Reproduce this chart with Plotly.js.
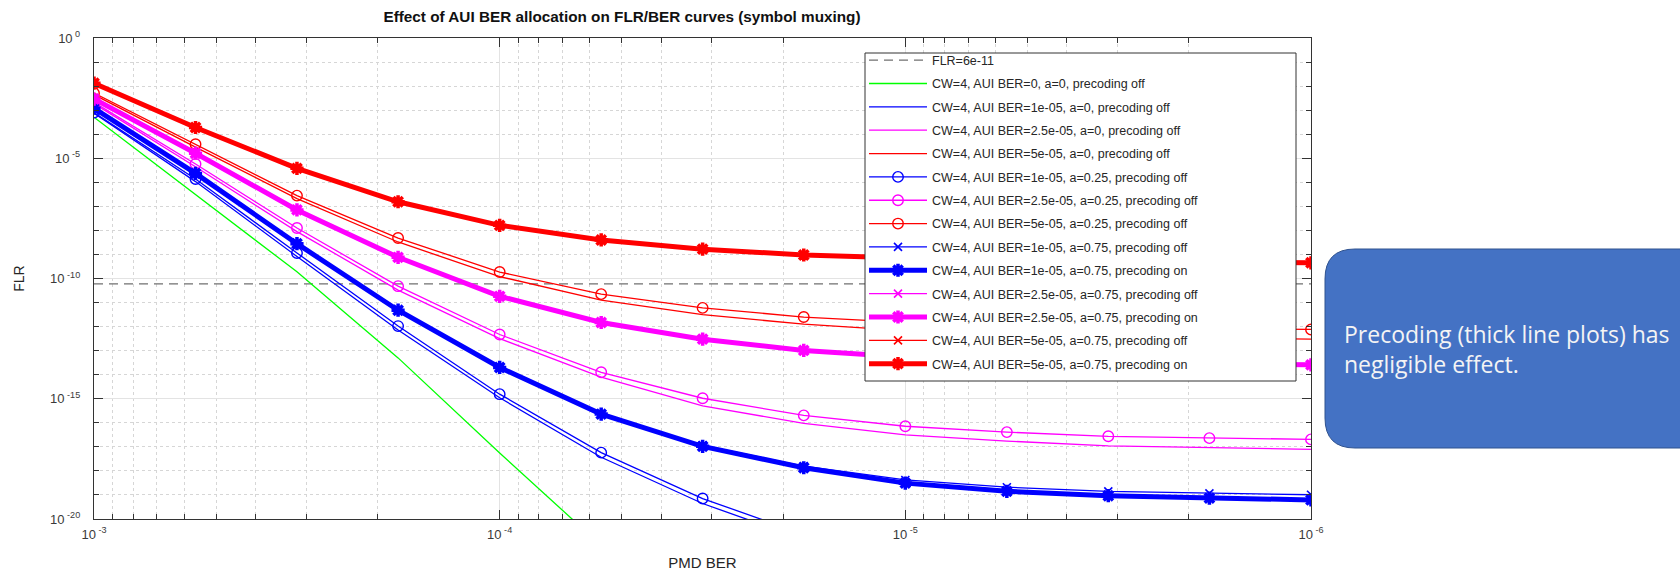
<!DOCTYPE html>
<html>
<head>
<meta charset="utf-8">
<script src="https://cdn.plot.ly/plotly-3.0.1.min.js"></script>
<style>
  html, body { margin: 0; padding: 0; background: #ffffff; }
  #chart { width: 1680px; height: 571px; }
</style>
</head>
<body>
<div id="chart"></div>
<script>
// ---------------- DATA ----------------
const pmdBer = [1e-3, 5.62e-4, 3.16e-4, 1.78e-4, 1e-4, 5.62e-5, 3.16e-5, 1.78e-5, 1e-5, 5.62e-6, 3.16e-6, 1.78e-6, 1e-6];

const flrTarget = 6e-11;

// a=0, precoding off
const green_ber0_a0   = [5.1e-4, 3.2e-7, 1.9e-10, 5.0e-14, 5.5e-18, 7.9e-22];
const blue_1e5_a0     = [7.4e-4, 1.07e-6, 8.3e-10, 7.2e-13, 1.1e-15, 3.7e-18, 4.4e-20, 1.41e-21];
const mag_25e6_a0     = [1.86e-3, 4.4e-6, 8.9e-9, 3.3e-11, 3.16e-13, 7.9e-15, 5.0e-16, 9.5e-17, 3.16e-17, 1.74e-17, 1.1e-17, 9.1e-18, 7.9e-18];
const red_5e5_a0      = [4.4e-3, 2.9e-5, 2.1e-7, 3.3e-9, 1.2e-10, 1.26e-11, 3.16e-12, 1.26e-12, 6.8e-13, 4.8e-13, 3.8e-13, 3.3e-13, 3.0e-13];
// a=0.25, precoding off
const blue_1e5_a025   = [7.9e-4, 1.38e-6, 1.15e-9, 1.05e-12, 1.55e-15, 5.75e-18, 7.1e-20, 2.3e-21];
const mag_25e6_a025   = [2.1e-3, 5.75e-6, 1.26e-8, 4.8e-11, 4.7e-13, 1.26e-14, 1.05e-15, 2.04e-16, 7.2e-17, 4.1e-17, 2.75e-17, 2.3e-17, 2.04e-17];
const red_5e5_a025    = [5.1e-3, 3.8e-5, 2.8e-7, 4.8e-9, 1.86e-10, 2.24e-11, 6.0e-12, 2.5e-12, 1.5e-12, 1.12e-12, 9.3e-13, 8.1e-13, 7.6e-13];
// a=0.75, precoding off / on
const blue_1e5_a075_off = [1.2e-3, 2.34e-6, 2.8e-9, 4.8e-12, 2.0e-14, 2.3e-16, 1.15e-17, 1.58e-18, 4.2e-19, 2.1e-19, 1.41e-19, 1.17e-19, 1.02e-19];
const blue_1e5_a075_on  = [1.2e-3, 2.34e-6, 2.8e-9, 4.8e-12, 2.0e-14, 2.3e-16, 1.05e-17, 1.35e-18, 3.1e-19, 1.41e-19, 9.3e-20, 7.4e-20, 6.2e-20];
const mag_25e6_a075_off = [2.9e-3, 1.62e-5, 7.1e-8, 7.6e-10, 1.82e-11, 1.48e-12, 3.0e-13, 1.02e-13, 5.4e-14, 3.8e-14, 3.16e-14, 2.75e-14, 2.57e-14];
const mag_25e6_a075_on  = [2.9e-3, 1.62e-5, 7.1e-8, 7.6e-10, 1.82e-11, 1.48e-12, 3.0e-13, 1.02e-13, 5.4e-14, 3.8e-14, 3.16e-14, 2.75e-14, 2.57e-14];
const red_5e5_a075_off  = [1.32e-2, 1.9e-4, 3.8e-6, 1.55e-7, 1.62e-8, 4.0e-9, 1.66e-9, 9.5e-10, 7.1e-10, 5.9e-10, 5.25e-10, 4.8e-10, 4.5e-10];
const red_5e5_a075_on   = [1.32e-2, 1.9e-4, 3.8e-6, 1.55e-7, 1.62e-8, 4.0e-9, 1.66e-9, 9.5e-10, 7.1e-10, 5.9e-10, 5.25e-10, 4.8e-10, 4.5e-10];

const seriesNames = [
  'FLR=6e-11',
  'CW=4, AUI BER=0, a=0, precoding off',
  'CW=4, AUI BER=1e-05, a=0, precoding off',
  'CW=4, AUI BER=2.5e-05, a=0, precoding off',
  'CW=4, AUI BER=5e-05, a=0, precoding off',
  'CW=4, AUI BER=1e-05, a=0.25, precoding off',
  'CW=4, AUI BER=2.5e-05, a=0.25, precoding off',
  'CW=4, AUI BER=5e-05, a=0.25, precoding off',
  'CW=4, AUI BER=1e-05, a=0.75, precoding off',
  'CW=4, AUI BER=1e-05, a=0.75, precoding on',
  'CW=4, AUI BER=2.5e-05, a=0.75, precoding off',
  'CW=4, AUI BER=2.5e-05, a=0.75, precoding on',
  'CW=4, AUI BER=5e-05, a=0.75, precoding off',
  'CW=4, AUI BER=5e-05, a=0.75, precoding on'
];

const xTickVals = [1e-3, 1e-4, 1e-5, 1e-6];
const xTickText = ['10<sup> -3</sup>', '10<sup> -4</sup>', '10<sup> -5</sup>', '10<sup> -6</sup>'];
const yTickVals = [1, 1e-5, 1e-10, 1e-15, 1e-20];
const yTickText = ['10<sup> 0</sup>', '10<sup> -5</sup>', '10<sup> -10</sup>', '10<sup> -15</sup>', '10<sup> -20</sup>'];

const titleText = 'Effect of AUI BER allocation on FLR/BER curves (symbol muxing)';
const xTitle = 'PMD BER';
const yTitle = 'FLR';
const noteLines = ['Precoding (thick line plots) has', 'negligible effect.'];

// ---------------- STYLE ----------------
const GREEN = '#00ff00', BLUE = '#0000ff', MAG = '#ff00ff', RED = '#ff0000';
const THIN = 1.3, THICK = 5;
const FONT = 'Liberation Sans, Arial, Helvetica, sans-serif';

function thin(name, y, color) {
  return {type: 'scatter', mode: 'lines', name: name, x: pmdBer.slice(0, y.length), y: y,
          line: {color: color, width: THIN}};
}
function circ(name, y, color) {
  return {type: 'scatter', mode: 'lines+markers', name: name, x: pmdBer.slice(0, y.length), y: y,
          line: {color: color, width: THIN},
          marker: {symbol: 'circle-open', size: 10.5, color: color, line: {color: color, width: 1.4}}};
}
function cross(name, y, color) {
  return {type: 'scatter', mode: 'lines+markers', name: name, x: pmdBer.slice(0, y.length), y: y,
          line: {color: color, width: THIN},
          marker: {symbol: 'x-thin-open', size: 8, color: color, line: {color: color, width: 1.6}}};
}
function thick(name, y, color) {
  return {type: 'scatter', mode: 'lines+markers', name: name, x: pmdBer.slice(0, y.length), y: y,
          line: {color: color, width: THICK},
          marker: {symbol: 'asterisk-open', size: 11, color: color, line: {color: color, width: 3.5}}};
}

const traces = [
  {type: 'scatter', mode: 'lines', name: seriesNames[0], x: [pmdBer[0], pmdBer[pmdBer.length - 1]],
   y: [flrTarget, flrTarget], line: {color: '#707070', width: 1.4, dash: '9px,6px'}},
  thin(seriesNames[1], green_ber0_a0, GREEN),
  thin(seriesNames[2], blue_1e5_a0, BLUE),
  thin(seriesNames[3], mag_25e6_a0, MAG),
  thin(seriesNames[4], red_5e5_a0, RED),
  circ(seriesNames[5], blue_1e5_a025, BLUE),
  circ(seriesNames[6], mag_25e6_a025, MAG),
  circ(seriesNames[7], red_5e5_a025, RED),
  cross(seriesNames[8], blue_1e5_a075_off, BLUE),
  thick(seriesNames[9], blue_1e5_a075_on, BLUE),
  cross(seriesNames[10], mag_25e6_a075_off, MAG),
  thick(seriesNames[11], mag_25e6_a075_on, MAG),
  cross(seriesNames[12], red_5e5_a075_off, RED),
  thick(seriesNames[13], red_5e5_a075_on, RED)
];
traces.forEach((t, i) => { t.legendgroup = 'g' + i; });

// minor tick positions
const xMinor = [];
[1e-6, 1e-5, 1e-4].forEach(d => { for (let m = 2; m <= 9; m++) xMinor.push(m * d); });
const yMinor = [];
for (let e = -19; e <= -1; e++) if (e % 5 !== 0) yMinor.push(Math.pow(10, e));

// plot-area geometry (pixels)
const W = 1680, H = 571, L = 94, R = 1311, T = 38, B = 519;
const px = x => (x - L) / (R - L);
const py = y => (B - y) / (B - T);

const axisFont = {family: FONT, size: 13, color: '#3a3a3a'};

// rounded note box (paper coords)
const bx0 = px(1325), bx1 = px(1720), by0 = py(448), by1 = py(249);
const rx = 30 / (R - L), ry = 30 / (B - T);
const boxPath = `M ${bx0 + rx},${by1} L ${bx1 - rx},${by1} Q ${bx1},${by1} ${bx1},${by1 - ry} ` +
  `L ${bx1},${by0 + ry} Q ${bx1},${by0} ${bx1 - rx},${by0} L ${bx0 + rx},${by0} ` +
  `Q ${bx0},${by0} ${bx0},${by0 + ry} L ${bx0},${by1 - ry} Q ${bx0},${by1} ${bx0 + rx},${by1} Z`;

const layout = {
  width: W, height: H,
  margin: {l: L, r: W - R, t: T, b: H - B, pad: 0},
  paper_bgcolor: '#ffffff', plot_bgcolor: '#ffffff',
  font: {family: FONT, color: '#262626'},
  title: {text: titleText, font: {family: FONT, size: 15.3, color: '#111', weight: 'bold'},
          xref: 'container', yref: 'container', x: 622 / W, y: 1 - 17 / H, xanchor: 'center', yanchor: 'middle'},
  xaxis: {
    type: 'log', range: [-3, -6], autorange: false,
    tickmode: 'array', tickvals: xTickVals, ticktext: xTickText,
    ticks: 'inside', ticklen: 9, tickwidth: 1, tickcolor: '#333',
    showline: true, linecolor: '#333', linewidth: 1.2, mirror: 'ticks',
    showgrid: true, gridcolor: '#e3e3e3', gridwidth: 1,
    zeroline: false, tickfont: axisFont, ticklabelstandoff: 3,
    minor: {tickmode: 'array', tickvals: xMinor, ticks: 'inside', ticklen: 5, tickcolor: '#333',
            showgrid: true, gridcolor: '#d6d6d6', gridwidth: 1, griddash: 'dot'},
    title: {text: xTitle, font: {family: FONT, size: 15, color: '#262626'}, standoff: 16},
    automargin: false
  },
  yaxis: {
    type: 'log', range: [-20, 0], autorange: false,
    tickmode: 'array', tickvals: yTickVals, ticktext: yTickText,
    ticks: 'inside', ticklen: 9, tickwidth: 1, tickcolor: '#333',
    showline: true, linecolor: '#333', linewidth: 1.2, mirror: 'ticks',
    showgrid: true, gridcolor: '#e3e3e3', gridwidth: 1,
    zeroline: false, tickfont: axisFont, ticklabelstandoff: 10,
    minor: {tickmode: 'array', tickvals: yMinor, ticks: 'inside', ticklen: 5, tickcolor: '#333',
            showgrid: true, gridcolor: '#d6d6d6', gridwidth: 1, griddash: 'dot'},
    title: {text: yTitle, font: {family: FONT, size: 14, color: '#262626'}, standoff: 22},
    automargin: false
  },
  legend: {
    x: px(864), y: py(45.5), xanchor: 'left', yanchor: 'top',
    bgcolor: 'rgba(0,0,0,0)', borderwidth: 0,
    font: {family: FONT, size: 12.5, color: '#262626'},
    itemwidth: 58, tracegroupgap: 4.1, traceorder: 'grouped'
  },
  shapes: [
    // legend frame (drawn as a white box so curves pass beneath it)
    {type: 'rect', xref: 'paper', yref: 'paper', x0: px(865), x1: px(1296), y0: py(381), y1: py(53),
     fillcolor: '#ffffff', line: {color: '#333333', width: 1}, layer: 'above'},
    {type: 'path', xref: 'paper', yref: 'paper', path: boxPath,
     fillcolor: '#4472c4', line: {color: '#2f528f', width: 1}, layer: 'above'}
  ],
  annotations: [
    {xref: 'paper', yref: 'paper', x: px(1342), y: py(334), xanchor: 'left', yanchor: 'middle',
     text: noteLines[0], showarrow: false, align: 'left',
     font: {family: 'Open Sans, Noto Sans, sans-serif', size: 23, color: '#f4f4f4'}},
    {xref: 'paper', yref: 'paper', x: px(1342), y: py(364), xanchor: 'left', yanchor: 'middle',
     text: noteLines[1], showarrow: false, align: 'left',
     font: {family: 'Open Sans, Noto Sans, sans-serif', size: 23, color: '#f4f4f4'}}
  ],
  showlegend: true
};

Plotly.newPlot('chart', traces, layout, {displayModeBar: false, staticPlot: true});
</script>
</body>
</html>
